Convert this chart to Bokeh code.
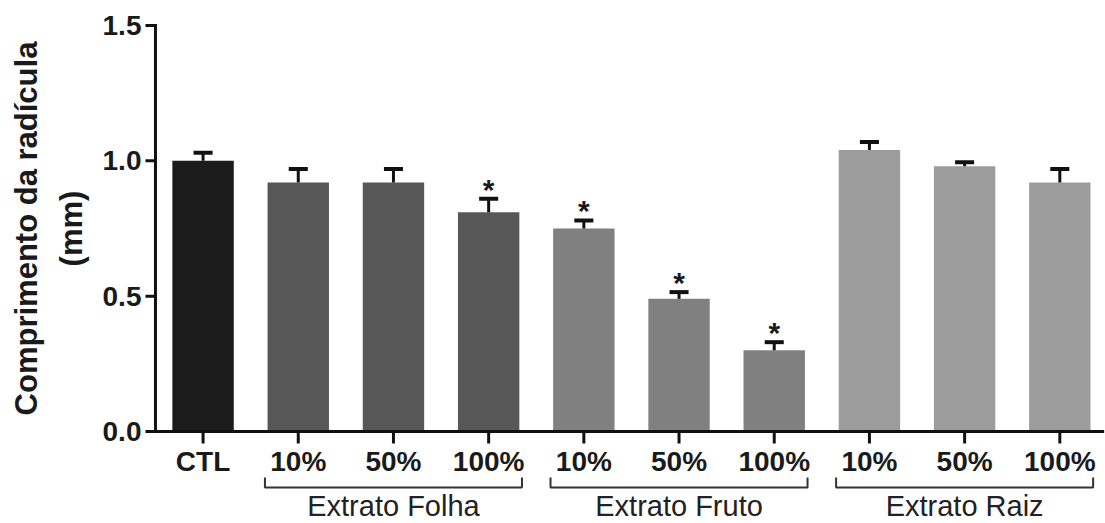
import math
from bokeh.plotting import figure
from bokeh.models import Range1d, ColumnDataSource
from bokeh.core.properties import value
from bokeh.embed import file_html
from bokeh.resources import INLINE

# --- data -----------------------------------------------------------------
tick_labels = ["CTL", "10%", "50%", "100%", "10%", "50%", "100%", "10%", "50%", "100%"]
means = [1.00, 0.92, 0.92, 0.81, 0.75, 0.49, 0.30, 1.04, 0.98, 0.92]
errors = [0.03, 0.05, 0.05, 0.05, 0.03, 0.025, 0.03, 0.03, 0.015, 0.05]
significant = [False, False, False, True, True, True, True, False, False, False]
group_names = ["Extrato Folha", "Extrato Fruto", "Extrato Raiz"]
group_members = [[1, 2, 3], [4, 5, 6], [7, 8, 9]]
bar_colors = ["#1b1b1b", "#575757", "#575757", "#575757",
              "#808080", "#808080", "#808080",
              "#9c9c9c", "#9c9c9c", "#9c9c9c"]
y_ticks = [0.0, 0.5, 1.0, 1.5]
y_title = ["Comprimento da radícula", "(mm)"]

FONT = "Liberation Sans"
INK = "#111111"
TXT = "#1a1a1a"
positions = list(range(len(tick_labels)))

# The plotting frame fills the whole canvas; axes, ticks and labels are
# drawn in data space so that the brackets below the x axis can be placed
# with the same scales as the bars.
p = figure(width=1105, height=523, output_backend="svg", toolbar_location=None,
           x_axis_type=None, y_axis_type=None,
           x_range=Range1d(-2.128, 9.48), y_range=Range1d(-0.34, 1.5925),
           min_border=0)
p.outline_line_color = None
p.background_fill_color = "white"
p.border_fill_color = "white"
p.xgrid.visible = False
p.ygrid.visible = False

px_x = 1 / 95.19   # one screen pixel in x data units
px_y = 1 / 270.65  # one screen pixel in y data units

# bars
src = ColumnDataSource(dict(x=positions, top=means, color=bar_colors,
                            hi=[m + e for m, e in zip(means, errors)]))
p.vbar(x="x", top="top", bottom=0, width=0.645, fill_color="color",
       line_color=None, source=src)

# error bars (upper only)
p.segment(x0="x", y0="top", x1="x", y1="hi", line_width=3,
          line_color=INK, source=src)
cap_half = 0.1
p.segment(x0=[x - cap_half for x in positions], y0=src.data["hi"],
          x1=[x + cap_half for x in positions], y1=src.data["hi"],
          line_width=4, line_color=INK)

# significance marks
sx = [x for x, s in zip(positions, significant) if s]
sy = [m + e for m, e, s in zip(means, errors, significant) if s]
p.text(x=sx, y=sy, text=["*"] * len(sx), text_align="center",
       text_baseline="bottom", y_offset=7, text_font=value(FONT),
       text_font_style="bold", text_font_size="30px", text_color=TXT)

# y axis
x_left = -0.5
p.segment(x0=x_left, y0=0, x1=x_left, y1=1.5, line_width=3, line_color=INK,
          line_cap="square")
p.segment(x0=[x_left] * len(y_ticks), y0=y_ticks,
          x1=[x_left - 10 * px_x] * len(y_ticks), y1=y_ticks,
          line_width=3, line_color=INK)
p.text(x=[x_left - 14 * px_x] * len(y_ticks), y=y_ticks,
       text=[f"{t:.1f}" for t in y_ticks], text_align="right",
       text_baseline="middle", text_font=value(FONT), text_font_style="bold",
       text_font_size="28px", text_color=TXT)
p.text(x=[-1.85, -1.383], y=[0.75, 0.75], text=y_title, angle=math.pi / 2,
       text_align="center", text_baseline="middle", text_font=value(FONT),
       text_font_style="bold", text_font_size="31px", text_color=TXT)

# x axis
p.segment(x0=x_left, y0=0, x1=9.45, y1=0, line_width=3, line_color=INK,
          line_cap="square")
p.segment(x0=positions, y0=[0] * len(positions), x1=positions,
          y1=[-12 * px_y] * len(positions), line_width=3, line_color=INK)
p.text(x=positions, y=[-0.112] * len(positions), text=tick_labels,
       text_align="center", text_baseline="middle", text_font=value(FONT),
       text_font_style="bold", text_font_size="28px", text_color=TXT)

# group brackets and names
half = 1.35
xs, ys, gx = [], [], []
for members in group_members:
    c = sum(members) / len(members)
    gx.append(c)
    xs.append([c - half, c - half, c + half, c + half])
    ys.append([-0.170, -0.207, -0.207, -0.170])
p.multi_line(xs=xs, ys=ys, line_width=2, line_color="#333333")
p.text(x=gx, y=[-0.276] * len(gx), text=group_names, text_align="center",
       text_baseline="middle", text_font=value(FONT), text_font_size="29px",
       text_color="#222222")

open("out.html", "w").write(file_html(p, INLINE))
